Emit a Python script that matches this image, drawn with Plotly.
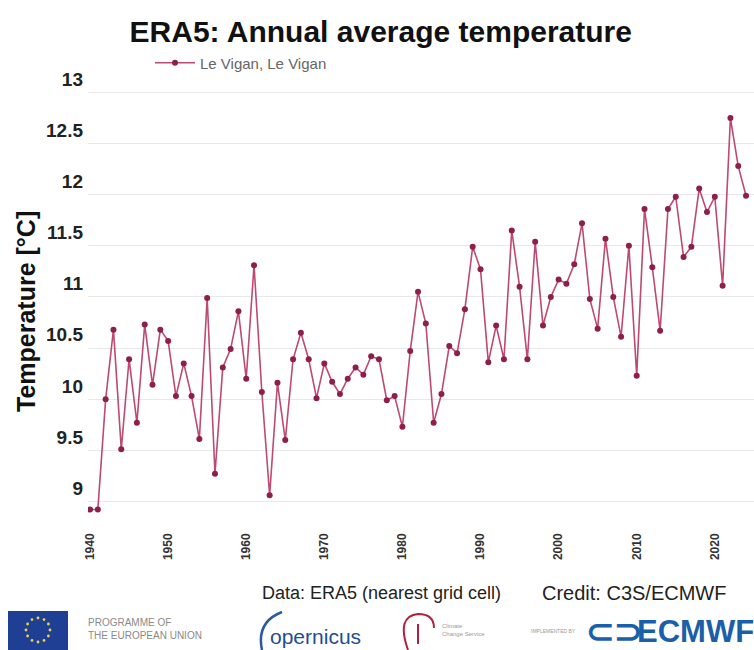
import math
import plotly.graph_objects as go

# Annual mean 2 m temperature, nearest ERA5 grid cell to Le Vigan
years = list(range(1940, 2025))
temps = [
    8.92, 8.92, 10.00, 10.68, 9.51, 10.39, 9.77, 10.73, 10.14, 10.68,
    10.57, 10.03, 10.35, 10.03, 9.61, 10.99, 9.27, 10.31, 10.49, 10.86,
    10.20, 11.31, 10.07, 9.06, 10.16, 9.60, 10.39, 10.65, 10.39, 10.01,
    10.35, 10.17, 10.05, 10.20, 10.31, 10.24, 10.42, 10.39, 9.99, 10.03,
    9.73, 10.47, 11.05, 10.74, 9.77, 10.05, 10.52, 10.45, 10.88, 11.49,
    11.27, 10.36, 10.72, 10.39, 11.65, 11.10, 10.39, 11.54, 10.72, 11.00,
    11.17, 11.13, 11.32, 11.72, 10.98, 10.69, 11.57, 11.00, 10.61, 11.50,
    10.23, 11.86, 11.29, 10.67, 11.86, 11.98, 11.39, 11.49, 12.06, 11.83,
    11.98, 11.11, 12.75, 12.28, 11.99,
]
series_name = "Le Vigan, Le Vigan"
y_ticks = [9, 9.5, 10, 10.5, 11, 11.5, 12, 12.5, 13]
x_ticks = list(range(1940, 2030, 10))

W, H = 754, 650
ML, MR, MT, MB = 88, 0, 88, 120
PW, PH = W - ML - MR, H - MT - MB

FONT = "Liberation Sans, Arial, sans-serif"


def px(x):
    return (x - ML) / PW


def py(y):
    return (H - MB - y) / PH


fig = go.Figure()
fig.add_trace(go.Scatter(
    x=years, y=temps, name=series_name, mode="lines+markers",
    line=dict(color="#bd4a72", width=1.6),
    marker=dict(color="#8e1f4c", size=6),
))

fig.update_layout(
    width=W, height=H,
    margin=dict(l=ML, r=MR, t=MT, b=MB),
    paper_bgcolor="white", plot_bgcolor="white",
    font=dict(family=FONT, color="#222"),
    title=dict(text="ERA5: Annual average temperature", x=0.505, xanchor="center",
               y=1 - 31 / H, yanchor="middle",
               font=dict(size=30, weight="bold", color="#111")),
    showlegend=True,
    legend=dict(orientation="h", x=px(150), xanchor="left", y=py(63), yanchor="middle",
                font=dict(size=15, color="#666"), itemwidth=40,
                bgcolor="rgba(0,0,0,0)"),
    xaxis=dict(range=[1939.74, 2025.02], tickvals=x_ticks, tickangle=-90,
               showgrid=False, zeroline=False, showline=False, ticks="",
               tickfont=dict(size=12, weight="bold", color="#333")),
    yaxis=dict(range=[8.72, 13.044], tickvals=y_ticks,
               ticklabelposition="outside top", ticklabelstandoff=4,
               showgrid=True, gridcolor="#e8e8e8", gridwidth=1,
               zeroline=False, showline=False, ticks="",
               tickfont=dict(size=19, weight="bold", color="#222")),
)

ann = []
shapes = []

# y-axis title
ann.append(dict(text="Temperature [°C]", xref="paper", yref="paper",
                x=px(26), y=py(312), textangle=-90, showarrow=False,
                xanchor="center", yanchor="middle",
                font=dict(size=25, weight="bold", color="#111")))

# source and credit lines
ann.append(dict(text="Data: ERA5 (nearest grid cell)", xref="paper", yref="paper",
                x=px(381), y=py(593), showarrow=False, xanchor="center", yanchor="middle",
                font=dict(size=18, color="#222")))
ann.append(dict(text="Credit: C3S/ECMWF", xref="paper", yref="paper",
                x=px(634), y=py(593), showarrow=False, xanchor="center", yanchor="middle",
                font=dict(size=20, color="#222")))

# --- logo strip ---
# EU flag
shapes.append(dict(type="rect", xref="paper", yref="paper",
                   x0=px(8), x1=px(68), y0=py(650), y1=py(611),
                   fillcolor="#1f3f94", line=dict(width=0)))
for k in range(12):
    a = 2 * math.pi * k / 12
    cx, cy = 38 + 12 * math.cos(a), 630 + 12 * math.sin(a)
    shapes.append(dict(type="circle", xref="paper", yref="paper",
                       x0=px(cx - 1.4), x1=px(cx + 1.4), y0=py(cy + 1.4), y1=py(cy - 1.4),
                       fillcolor="#e8d44a", line=dict(width=0)))
ann.append(dict(text="PROGRAMME OF<br>THE EUROPEAN UNION", xref="paper", yref="paper",
                x=px(86), y=py(629), showarrow=False, xanchor="left", yanchor="middle",
                align="left", font=dict(size=10, color="#8a8a8a")))

# Copernicus
shapes.append(dict(type="path", xref="paper", yref="paper",
                   path=f"M {px(282)},{py(612)} Q {px(256)},{py(622)} {px(262)},{py(650)}",
                   line=dict(color="#2c5aa0", width=2.5)))
ann.append(dict(text="opernicus", xref="paper", yref="paper",
                x=px(268), y=py(636), showarrow=False, xanchor="left", yanchor="middle",
                font=dict(size=21, color="#1f4e96")))

# Climate Change Service
shapes.append(dict(type="path", xref="paper", yref="paper",
                   path=(f"M {px(408)},{py(650)} Q {px(396)},{py(616)} {px(418)},{py(614)}"
                         f" Q {px(434)},{py(614)} {px(434)},{py(628)}"),
                   line=dict(color="#b3203e", width=2)))
shapes.append(dict(type="line", xref="paper", yref="paper",
                   x0=px(418), x1=px(418), y0=py(644), y1=py(624),
                   line=dict(color="#b3203e", width=2)))
ann.append(dict(text="Climate<br>Change Service", xref="paper", yref="paper",
                x=px(440), y=py(630), showarrow=False, xanchor="left", yanchor="middle",
                align="left", font=dict(size=6, color="#999")))

# ECMWF
ann.append(dict(text="IMPLEMENTED BY", xref="paper", yref="paper",
                x=px(553), y=py(631), showarrow=False, xanchor="center", yanchor="middle",
                font=dict(size=5, color="#999")))
ann.append(dict(text="⊂⊃", xref="paper", yref="paper",
                x=px(614), y=py(631), showarrow=False, xanchor="center", yanchor="middle",
                font=dict(size=34, weight="bold", color="#1b5fa8")))
ann.append(dict(text="ECMWF", xref="paper", yref="paper",
                x=px(695), y=py(631), showarrow=False, xanchor="center", yanchor="middle",
                font=dict(size=31, weight="bold", color="#1b5fa8")))

fig.update_layout(annotations=ann, shapes=shapes)
fig.write_html("out.html")
